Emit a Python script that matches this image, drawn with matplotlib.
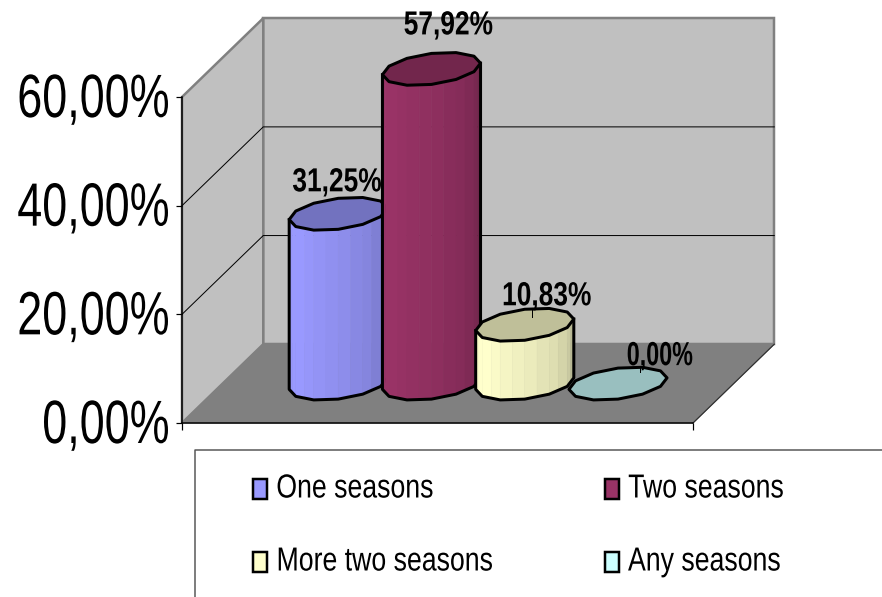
import numpy as np
import matplotlib
matplotlib.use("Agg")
import matplotlib.pyplot as plt
from matplotlib.patches import Rectangle
from matplotlib.patheffects import AbstractPathEffect
from matplotlib.transforms import Affine2D

plt.rcParams["font.family"] = ["Liberation Sans", "DejaVu Sans"]

categories = ["One seasons", "Two seasons", "More two seasons", "Any seasons"]
values = [31.25, 57.92, 10.83, 0.00]
value_labels = ["31,25%", "57,92%", "10,83%", "0,00%"]
y_ticks = [0, 20, 40, 60]
y_tick_labels = ["0,00%", "20,00%", "40,00%", "60,00%"]

side_colors = ["#9999FF", "#993366", "#FFFFCC", "#CCFFFF"]
top_colors = ["#7272BF", "#72264C", "#BFBF99", "#99BFBF"]

W, H = 882, 597
fig = plt.figure(figsize=(W / 100, H / 100), dpi=100)
px = 0.72  # one pixel in points


class Squeeze(AbstractPathEffect):
    # no narrow font installed, so squeeze the glyphs sideways when drawn
    def __init__(self, sx, anchor="left", right=None, up=0):
        super().__init__()
        self.sx = sx
        self.anchor = anchor
        self.right = right
        self.up = up

    def draw_path(self, renderer, gc, tpath, affine, rgbFace=None):
        ext = tpath.transformed(affine).get_extents()
        if self.anchor == "center":
            a = (ext.x0 + ext.x1) / 2
        else:
            a = ext.x0
        t = Affine2D().translate(-a, 0).scale(self.sx, 1).translate(a, self.up)
        if self.right is not None:
            t = t.translate(self.right - (a + (ext.x1 - a) * self.sx), 0)
        renderer.draw_path(gc, tpath, affine + t, rgbFace)


# front plane of the 3d box, the axes scales do the rest
ax = fig.add_axes([182 / W, (H - 423) / H, 511 / W, 326 / H])
ax.set_xlim(0, 4)
ax.set_ylim(0, 60)
ax.patch.set_visible(False)
for s in ["top", "right"]:
    ax.spines[s].set_visible(False)
ax.spines["left"].set_linewidth(1.5 * px)
ax.spines["bottom"].set_linewidth(1.5 * px)
ax.set_yticks(y_ticks)
ax.set_yticklabels(y_tick_labels, fontsize=44, ha="left")
ax.tick_params(axis="y", length=6 * px, width=1.2 * px, pad=160 * px)
for lab in ax.get_yticklabels():
    lab.set_path_effects([Squeeze(0.735, right=168, up=2)])
ax.set_xticks([0, 4])
ax.set_xticklabels(["", ""])
ax.tick_params(axis="x", length=7 * px, width=1.2 * px)

DX = 0.636   # depth of box in x units
DY = 14.5    # depth of box in value units
wall = "#C0C0C0"
edge = "#808080"

# walls and floor
ax.fill([DX, 4 + DX, 4 + DX, DX], [DY, DY, 60 + DY, 60 + DY], fc=wall, ec=edge, lw=2.5 * px, clip_on=False, zorder=1)
ax.fill([0, DX, DX, 0], [0, DY, 60 + DY, 60], fc=wall, ec=edge, lw=2.5 * px, clip_on=False, zorder=1)
ax.fill([0, DX, 4 + DX, 4], [0, DY, DY, 0], fc=edge, ec=edge, lw=1 * px, clip_on=False, zorder=1)
ax.plot([4, 4 + DX], [0, DY], color="#303030", lw=1.2 * px, clip_on=False, zorder=2)
for v in y_ticks[1:3]:
    ax.plot([0, DX, 4 + DX], [v, v + DY, v + DY], color="black", lw=1 * px, clip_on=False, zorder=2)

# cylinders
spacing = 0.73
r = 0.36
depth_mid = 0.5
depth_r = 0.21
n_sides = 12
shades = [0.98, 1.0, 1.0, 0.98, 0.96, 0.94, 0.92, 0.89, 0.87, 0.83, 0.79, 0.72]
lw_cyl = 3 * px


def center_x(i):
    return 2 + (i - 1.5) * spacing + depth_mid * DX


phi = np.arctan2(depth_r * DX, r)
for i, v in enumerate(values):
    cx = center_x(i)
    base = depth_mid * DY
    z = 3 + i
    t = phi + np.pi + np.arange(n_sides + 1) * 2 * np.pi / n_sides
    px_ring = cx + r * np.cos(t) + depth_r * DX * np.sin(t)
    py_ring = depth_r * DY * np.sin(t)
    fx = px_ring[: n_sides // 2 + 1]
    fy = base + py_ring[: n_sides // 2 + 1]
    if v > 0:
        rgb = np.array(matplotlib.colors.to_rgb(side_colors[i]))
        # two shading strips on each side of the polygon
        sx = np.interp(np.arange(0, n_sides / 2 + 0.25, 0.5), np.arange(len(fx)), fx)
        sy = np.interp(np.arange(0, n_sides / 2 + 0.25, 0.5), np.arange(len(fy)), fy)
        for j in range(len(sx) - 1):
            c = rgb * shades[j]
            ax.fill([sx[j], sx[j + 1], sx[j + 1], sx[j]],
                    [sy[j], sy[j + 1], sy[j + 1] + v, sy[j] + v],
                    fc=c, ec=c, lw=0.4, clip_on=False, zorder=z)
        ox = np.r_[fx[0], fx, fx[-1]]
        oy = np.r_[fy[0] + v, fy, fy[-1] + v]
        ax.plot(ox, oy, color="black", lw=lw_cyl, clip_on=False, zorder=z, solid_joinstyle="round")
    ax.fill(px_ring, base + v + py_ring, fc=top_colors[i], ec="black", lw=lw_cyl,
            clip_on=False, zorder=z, joinstyle="round")

# data labels, offsets in pixels from the top of each cylinder
label_off = [(-1, 31), (17, 43), (22, 28), (42, 27)]
label_sx = [0.79, 0.79, 0.79, 0.70]
for i, v in enumerate(values):
    top = depth_mid * DY + v
    t = ax.annotate(value_labels[i], (center_x(i), top), xytext=(label_off[i][0] * px, label_off[i][1] * px),
                    textcoords="offset points", ha="center", va="center", fontsize=24, fontweight="bold",
                    annotation_clip=False, zorder=10)
    t.set_path_effects([Squeeze(label_sx[i], anchor="center")])

# short leader lines on the two low bars
leader_off = {2: (7, 8, 16), 3: (22, 12, 18)}
for i, (lx, l0, l1) in leader_off.items():
    top = depth_mid * DY + values[i]
    x = center_x(i) + lx * 4 / 511
    ax.plot([x, x], [top + l0 * 60 / 326, top + l1 * 60 / 326], color="black", lw=1 * px,
            clip_on=False, zorder=11)

# legend box, in figure pixels
lg = fig.add_axes([0, 0, 1, 1])
lg.set_xlim(0, W)
lg.set_ylim(H, 0)
lg.axis("off")
lg.plot([195, 195, W], [H, 450, 450], color="#555555", lw=1.5 * px)
swatch_x = [253, 605, 253, 605]
swatch_y = [489, 489, 562, 562]
for i, name in enumerate(categories):
    lg.add_patch(Rectangle((swatch_x[i], swatch_y[i] - 10), 14, 20, fc=side_colors[i], ec="black", lw=2.5 * px))
    t = lg.text(swatch_x[i] + 23, swatch_y[i], name, fontsize=24, va="center", ha="left")
    t.set_path_effects([Squeeze(0.80)])

fig.savefig("out.png", dpi=100)
